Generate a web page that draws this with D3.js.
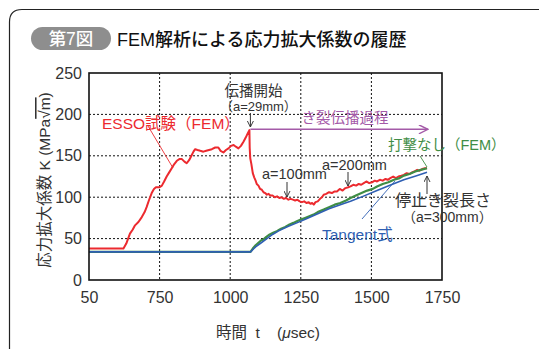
<!DOCTYPE html>
<html>
<head>
<meta charset="utf-8">
<script src="https://cdn.jsdelivr.net/npm/d3@7"></script>
<style>
  html, body { margin: 0; padding: 0; background: #fff; }
  svg { display: block; }
  text { font-family: "Liberation Sans", Arial, "Noto Sans CJK JP", sans-serif; }
</style>
</head>
<body>
<svg id="chart" width="539" height="349"></svg>
<script>
// Time axis (μs) and stress intensity factor K (MPa√m)
const xTicks = [500, 750, 1000, 1250, 1500, 1750];
const xTickLabels = ["50", "750", "1000", "1250", "1500", "1750"];
const yTicks = [0, 50, 100, 150, 200, 250];

// ESSO test (FEM)
const essoT = [500, 622, 632, 645, 655, 663, 675, 687, 697, 704, 712, 722, 730, 737, 750, 758, 766, 775, 784, 793, 802, 811, 820, 829, 838, 846, 855, 864, 870, 876, 884, 894, 905, 915, 925, 935, 947, 958, 966, 976, 985, 994, 1003, 1012, 1020, 1029, 1038, 1047, 1055, 1062, 1068,
  1069, 1071, 1075, 1080, 1085, 1090, 1094, 1100, 1106, 1112, 1118, 1124, 1130, 1136, 1142, 1150, 1158, 1166, 1174, 1182, 1190, 1198, 1206, 1214, 1222, 1230, 1238, 1246, 1254, 1262, 1270, 1278, 1284, 1290, 1296, 1302, 1310, 1318, 1325, 1331, 1340, 1350, 1360, 1370, 1378, 1388, 1398, 1408, 1418, 1426, 1436, 1446, 1455, 1464, 1473, 1482, 1492, 1502, 1512, 1520, 1530, 1540, 1550, 1558, 1567, 1577, 1587, 1596, 1606, 1615, 1625, 1635, 1644, 1652, 1662, 1670, 1680, 1690, 1697];
const essoK = [38, 38, 44, 56, 61, 66, 70, 76, 82, 88, 96, 105, 110, 112, 112, 114, 119, 125, 130, 135, 140, 144, 146, 146, 143, 141, 145, 151, 155, 158, 157, 156, 155, 156, 157, 158, 160, 160, 156, 154, 157, 159, 162, 163, 161, 159, 162, 167, 172, 177, 181,
  160, 147, 140, 129, 124, 120, 116, 114, 110, 109, 106, 105, 103, 104, 102, 102, 100, 101, 99, 100, 98, 99, 97, 98, 97, 96, 97, 95, 94, 95, 93, 94, 92, 93, 91, 94, 95, 98, 100, 103, 104, 106, 105, 107, 107, 110, 108, 111, 112, 113, 115, 114, 116, 115, 117, 119, 117, 118, 120, 119, 121, 120, 122, 121, 123, 125, 123, 125, 126, 127, 129, 128, 130, 131, 133, 132, 134, 135, 135];

// No impact (FEM)
const noImpT = [500, 1072, 1080, 1090, 1100, 1110, 1118, 1128, 1140, 1152, 1165, 1180, 1195, 1210, 1224, 1236, 1250, 1265, 1280, 1295, 1310, 1331, 1350, 1370, 1390, 1410, 1426, 1445, 1465, 1485, 1505, 1520, 1540, 1560, 1580, 1600, 1615, 1635, 1655, 1675, 1697];
const noImpK = [34, 34, 38, 42, 45, 48, 49, 52, 55, 57, 59, 62, 64, 67, 69, 71, 73, 75, 77, 79, 82, 85, 88, 91, 93, 96, 99, 102, 105, 108, 110, 113, 116, 118, 121, 123, 126, 128, 131, 133, 135];

// Tangent formula
const tanT = [500, 1072, 1090, 1110, 1130, 1150, 1170, 1200, 1236, 1270, 1310, 1350, 1400, 1426, 1470, 1520, 1570, 1615, 1660, 1697];
const tanK = [34, 34, 40, 45, 50, 55, 59, 64, 69, 74, 80, 86, 92, 95, 101, 108, 115, 121, 126, 130];

const svg = d3.select("#chart");
const pLeft = 89, pRight = 442, pTop = 73, pBottom = 280;
const x = d3.scaleLinear().domain([500, 1750]).range([pLeft, pRight]);
const y = d3.scaleLinear().domain([0, 250]).range([pBottom, pTop]);

const red = "#ec2a2f", green = "#3f8d45", blue = "#2f5fb3", purple = "#a45aa8", ink = "#333";

// outer panel frame (top + left with rounded corner)
svg.append("path")
  .attr("d", "M9.5,349 L9.5,22 Q9.5,9.5 22,9.5 L539,9.5")
  .attr("fill", "none").attr("stroke", "#222").attr("stroke-width", 1.2);

// title badge
svg.append("rect").attr("x", 31).attr("y", 27).attr("width", 80).attr("height", 23)
  .attr("rx", 11.5).attr("fill", "#8e8e8e");
svg.append("text").attr("x", 71).attr("y", 45).attr("text-anchor", "middle")
  .attr("fill", "#fff").attr("font-size", 17.5).attr("font-weight", 500).text("第7図");
svg.append("text").attr("x", 117).attr("y", 45.5).attr("fill", "#111")
  .attr("font-size", 18).attr("font-weight", 500).text("FEM解析による応力拡大係数の履歴");

// grid
const grid = svg.append("g").attr("stroke", "#111").attr("stroke-width", 1).attr("stroke-dasharray", "2,2");
grid.selectAll("line.v").data(xTicks.slice(1, -1)).join("line").attr("class", "v")
  .attr("x1", d => x(d)).attr("x2", d => x(d)).attr("y1", pTop).attr("y2", pBottom);
grid.selectAll("line.h").data(yTicks.slice(1, -1)).join("line").attr("class", "h")
  .attr("y1", d => y(d)).attr("y2", d => y(d)).attr("x1", pLeft).attr("x2", pRight);

// axes
const xAxis = d3.axisBottom(x).tickValues(xTicks).tickSize(0).tickPadding(12)
  .tickFormat((d, i) => xTickLabels[i]);
const gx = svg.append("g").attr("transform", `translate(0,${pBottom})`).call(xAxis);
gx.select(".domain").remove();
gx.selectAll("text").attr("font-size", 16).attr("fill", ink)
  .attr("font-family", "'Liberation Sans', Arial, sans-serif");

const yAxis = d3.axisLeft(y).tickValues(yTicks).tickSize(0).tickPadding(7);
const gy = svg.append("g").attr("transform", `translate(${pLeft},0)`).call(yAxis);
gy.select(".domain").remove();
gy.selectAll("text").attr("font-size", 16).attr("fill", ink)
  .attr("font-family", "'Liberation Sans', Arial, sans-serif");

// series
const line = d3.line().x(d => x(d[0])).y(d => y(d[1]));
const zip = (a, b) => a.map((v, i) => [v, b[i]]);

svg.append("path").datum(zip(essoT, essoK)).attr("d", line)
  .attr("fill", "none").attr("stroke", red).attr("stroke-width", 2).attr("stroke-linejoin", "round");
svg.append("path").datum(zip(noImpT, noImpK)).attr("d", line)
  .attr("fill", "none").attr("stroke", green).attr("stroke-width", 2.2).attr("stroke-linejoin", "round");
svg.append("path").datum(zip(tanT, tanK)).attr("d", line)
  .attr("fill", "none").attr("stroke", blue).attr("stroke-width", 1.6).attr("stroke-linejoin", "round");

// plot frame
svg.append("rect").attr("x", pLeft).attr("y", pTop).attr("width", pRight - pLeft).attr("height", pBottom - pTop)
  .attr("fill", "none").attr("stroke", "#111").attr("stroke-width", 1.6);

// arrow markers
const defs = svg.append("defs");
function marker(id, color, w, h) {
  defs.append("marker").attr("id", id).attr("viewBox", "0 0 10 10").attr("refX", 10).attr("refY", 5)
    .attr("markerWidth", w).attr("markerHeight", h).attr("markerUnits", "userSpaceOnUse").attr("orient", "auto")
    .append("path").attr("d", "M0,0 L10,5 L0,10").attr("fill", "none").attr("stroke", color).attr("stroke-width", 1.6);
}
marker("arrK", "#333", 6, 7);
marker("arrP", purple, 11, 9);

// crack propagation range arrow
const tStart = 1068;
svg.append("line").attr("x1", x(tStart) + 1).attr("x2", x(1700)).attr("y1", y(182)).attr("y2", y(182))
  .attr("stroke", purple).attr("stroke-width", 1.6).attr("marker-end", "url(#arrP)");
svg.append("text").attr("x", 345).attr("y", 123).attr("text-anchor", "middle")
  .attr("fill", purple).attr("font-size", 14.5).text("き裂伝播過程");

// propagation start
svg.append("text").attr("x", x(tStart) + 4).attr("y", 96).attr("text-anchor", "middle")
  .attr("fill", ink).attr("font-size", 14.5).text("伝播開始");
svg.append("text").attr("x", x(tStart) + 9).attr("y", 111).attr("text-anchor", "middle")
  .attr("fill", ink).attr("font-size", 13).text("（a=29mm）");
svg.append("line").attr("x1", x(tStart) + 1).attr("x2", x(tStart) + 1).attr("y1", 113).attr("y2", 127)
  .attr("stroke", "#333").attr("stroke-width", 1).attr("marker-end", "url(#arrK)");

// ESSO label
svg.append("text").attr("x", 102).attr("y", 129).attr("fill", red).attr("font-size", 15.5).text("ESSO試験（FEM）");
svg.append("line").attr("x1", 148).attr("y1", 126).attr("x2", 173).attr("y2", 168)
  .attr("stroke", red).attr("stroke-width", 0.9);

// crack length marks
svg.append("text").attr("x", 262).attr("y", 179).attr("fill", ink).attr("font-size", 14.5).text("a=100mm");
svg.append("line").attr("x1", 287).attr("x2", 287).attr("y1", 182).attr("y2", 197)
  .attr("stroke", "#333").attr("stroke-width", 1).attr("marker-end", "url(#arrK)");
svg.append("text").attr("x", 322).attr("y", 170).attr("fill", ink).attr("font-size", 14.5).text("a=200mm");
svg.append("line").attr("x1", 348).attr("x2", 348).attr("y1", 172).attr("y2", 186)
  .attr("stroke", "#333").attr("stroke-width", 1).attr("marker-end", "url(#arrK)");

// no-impact label
svg.append("text").attr("x", 388).attr("y", 150).attr("fill", green).attr("font-size", 14.5).text("打撃なし（FEM）");
svg.append("line").attr("x1", 420).attr("y1", 156).attr("x2", 427).attr("y2", 167)
  .attr("stroke", green).attr("stroke-width", 0.9);

// arrest crack length
svg.append("line").attr("x1", 427).attr("x2", 427).attr("y1", 194).attr("y2", 176)
  .attr("stroke", "#333").attr("stroke-width", 1).attr("marker-end", "url(#arrK)");
svg.append("text").attr("x", 395).attr("y", 206).attr("fill", ink).attr("font-size", 16).text("停止き裂長さ");
svg.append("text").attr("x", 402).attr("y", 222).attr("fill", ink).attr("font-size", 14).text("（a=300mm）");

// tangent label
svg.append("text").attr("x", 322).attr("y", 240).attr("fill", blue).attr("font-size", 15.5).text("Tangent式");
svg.append("line").attr("x1", 362).attr("y1", 219).attr("x2", 395).attr("y2", 181)
  .attr("stroke", blue).attr("stroke-width", 0.9);

// axis titles
const yt = svg.append("text").attr("transform", "translate(50,180) rotate(-90)")
  .attr("text-anchor", "middle").attr("fill", ink).attr("font-size", 15.5);
yt.append("tspan").text("応力拡大係数  K  (MPa");
yt.append("tspan").attr("text-decoration", "overline").text("√m");
yt.append("tspan").text(")");

const xt = svg.append("text").attr("x", 268).attr("y", 338).attr("text-anchor", "middle")
  .attr("fill", ink).attr("font-size", 15.5).attr("xml:space", "preserve");
xt.append("tspan").text("時間  t    (");
xt.append("tspan").attr("font-style", "italic").text("μ");
xt.append("tspan").text("sec)");
</script>
</body>
</html>
